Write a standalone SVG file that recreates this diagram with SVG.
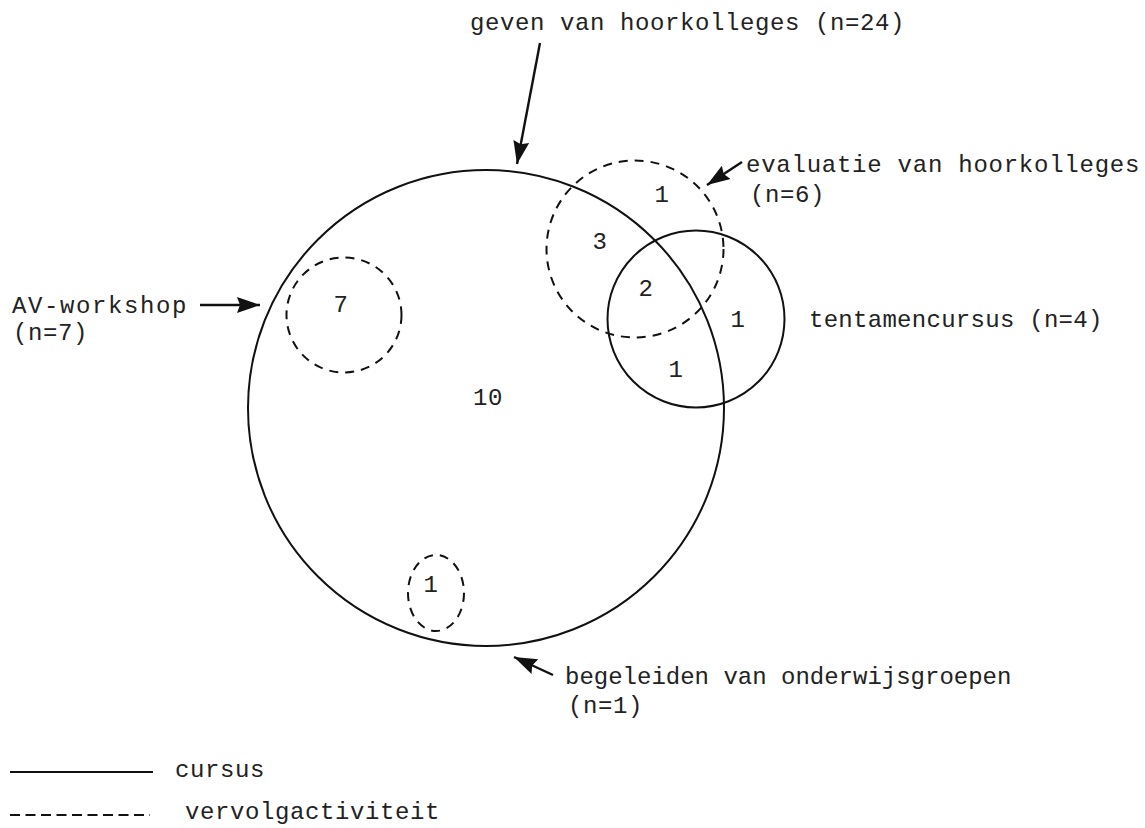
<svg xmlns="http://www.w3.org/2000/svg" width="1145" height="828" viewBox="0 0 1145 828">
<style>
text{font-family:"Liberation Mono","DejaVu Sans Mono",monospace;font-size:24px;fill:#222;letter-spacing:0.6px}
.solid{fill:none;stroke:#111;stroke-width:2}
.dash{fill:none;stroke:#111;stroke-width:2;stroke-dasharray:9 7}
.arr{fill:none;stroke:#111;stroke-width:2.4;marker-end:url(#ah)}
</style>
<defs>
<marker id="ah" markerUnits="userSpaceOnUse" markerWidth="26" markerHeight="18" refX="23" refY="9" orient="auto">
<path d="M0,1 L23,9 L0,17 L3,9 z" fill="#111"/>
</marker>
</defs>
<rect width="1145" height="828" fill="#fff"/>
<g id="cursus-hoorkolleges">
<circle class="solid" cx="486" cy="408" r="238"/>
<text x="488" y="405" text-anchor="middle">10</text>
</g>
<g id="evaluatie">
<circle class="dash" cx="635" cy="249" r="88.5"/>
<text x="662" y="202" text-anchor="middle">1</text>
<text x="600" y="249" text-anchor="middle">3</text>
<text x="646" y="296" text-anchor="middle">2</text>
</g>
<g id="tentamencursus">
<circle class="solid" cx="696" cy="319" r="88.5"/>
<text x="738" y="327" text-anchor="middle">1</text>
<text x="676" y="377" text-anchor="middle">1</text>
</g>
<g id="av-workshop">
<circle class="dash" cx="344" cy="315" r="57.5"/>
<text x="341" y="312" text-anchor="middle">7</text>
</g>
<g id="begeleiden">
<ellipse class="dash" cx="436" cy="593" rx="28" ry="38"/>
<text x="431" y="592" text-anchor="middle">1</text>
</g>
<g id="labels">
<text x="470" y="30" textLength="435">geven van hoorkolleges (n=24)</text>
<text x="746" y="172" textLength="394">evaluatie van hoorkolleges</text>
<text x="750" y="202">(n=6)</text>
<text x="12" y="313" textLength="175">AV-workshop</text>
<text x="13" y="340">(n=7)</text>
<text x="809" y="327" textLength="294">tentamencursus (n=4)</text>
<text x="565" y="684" textLength="447">begeleiden van onderwijsgroepen</text>
<text x="568" y="713">(n=1)</text>
</g>
<g id="connectors">
<line class="arr" x1="540" y1="43" x2="517" y2="164"/>
<line class="arr" x1="742" y1="162" x2="707" y2="185"/>
<line class="arr" x1="200" y1="305" x2="260" y2="305"/>
<line class="arr" x1="553" y1="675" x2="514" y2="657"/>
</g>
<g id="legend">
<line class="solid" x1="10" y1="772" x2="153" y2="772"/>
<text x="175" y="777">cursus</text>
<line x1="10" y1="815" x2="150" y2="815" stroke="#111" stroke-width="2" stroke-dasharray="10 5.5"/>
<text x="185" y="819">vervolgactiviteit</text>
</g>
</svg>
